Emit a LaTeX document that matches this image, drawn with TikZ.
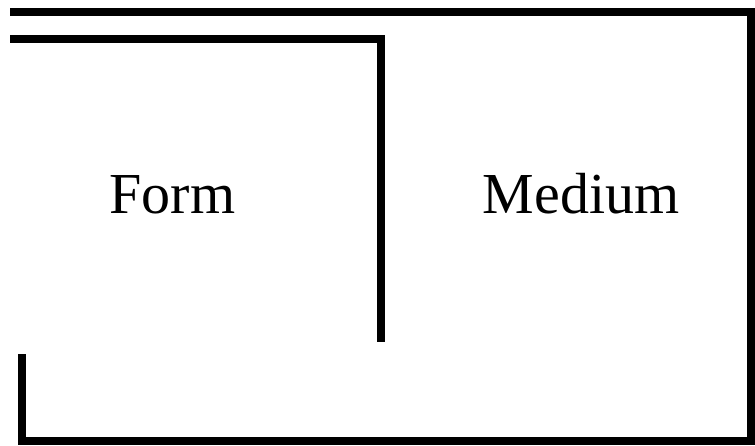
\documentclass[tikz,border=0pt]{standalone}
\usepackage{fontspec}
\setmainfont{Liberation Serif}
\usetikzlibrary{positioning}

\begin{document}
\begin{tikzpicture}[x=1pt, y=-1pt,
  wall/.style={line width=7.5pt, line join=miter},
  lbl/.style={anchor=base, font=\fontsize{58}{60}\selectfont, inner sep=0pt}]

% ---- frame of the picture -----------------------------------------------
\useasboundingbox (0,0) rectangle (755,445);

% ---- outer boundary (medium) --------------------------------------------
\draw[wall] (10,12) -- (751,12) -- (751,441) -- (22,441) -- (22,354);

% ---- inner boundary (form) ----------------------------------------------
\draw[wall] (10,39) -- (381,39) -- (381,342);

% ---- labels -------------------------------------------------------------
\node[lbl] (form) at (172.5,213) {Form};
\node[lbl] (medium) at (581,213) {Medium};
\end{tikzpicture}
\end{document}
